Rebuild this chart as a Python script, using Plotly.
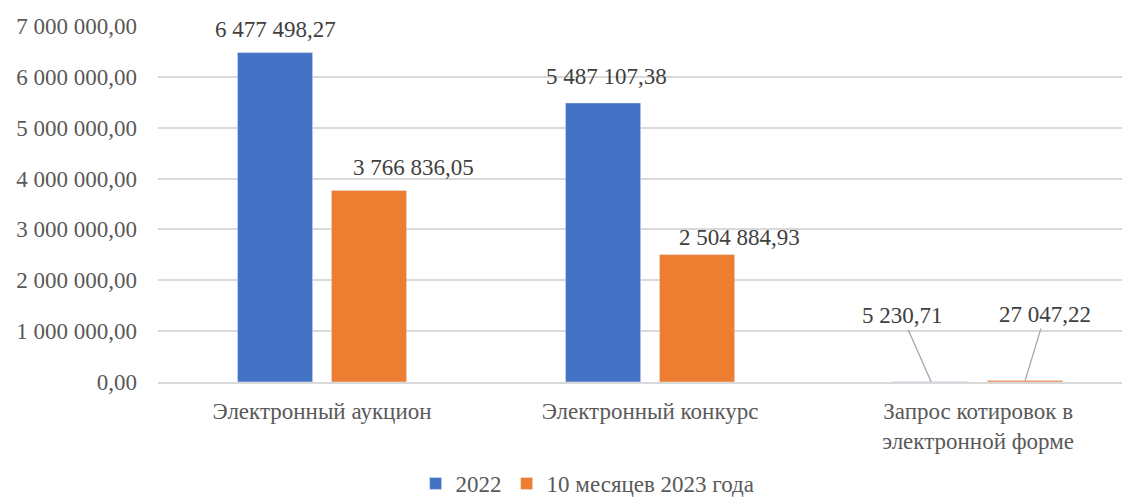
import plotly.graph_objects as go

categories = ["Электронный аукцион", "Электронный конкурс", "Запрос котировок в<br>электронной форме"]
series_names = ["2022", "10 месяцев 2023 года"]
values_2022 = [6477498.27, 5487107.38, 5230.71]
values_2023 = [3766836.05, 2504884.93, 27047.22]
label_2022 = ["6 477 498,27", "5 487 107,38", "5 230,71"]
label_2023 = ["3 766 836,05", "2 504 884,93", "27 047,22"]
y_ticks = [0, 1000000, 2000000, 3000000, 4000000, 5000000, 6000000, 7000000]

BLUE = "#4472C4"
ORANGE = "#ED7D31"
FONT = "Liberation Serif, Liberation Sans, sans-serif"
FS = 23

xs = list(range(len(categories)))

fig = go.Figure()
fig.add_trace(go.Bar(x=xs, y=values_2022, name=series_names[0], marker_color=BLUE))
fig.add_trace(go.Bar(x=xs, y=values_2023, name=series_names[1], marker_color=ORANGE))

off = 0.1433  # half distance between bar centers (in category units)

shifts_2022 = [(0, 23), (3, 26)]
shifts_2023 = [(44, 23), (42, 17)]
annotations = []
for i in range(2):
    annotations.append(dict(x=xs[i] - off, y=values_2022[i], text=label_2022[i], showarrow=False,
                            xref="x", yref="y", yanchor="middle",
                            xshift=shifts_2022[i][0], yshift=shifts_2022[i][1]))
    annotations.append(dict(x=xs[i] + off, y=values_2023[i], text=label_2023[i], showarrow=False,
                            xref="x", yref="y", yanchor="middle",
                            xshift=shifts_2023[i][0], yshift=shifts_2023[i][1]))
annotations.append(dict(x=xs[2] - off, y=values_2022[2], text=label_2022[2], showarrow=True,
                        arrowhead=0, arrowwidth=1.3, arrowcolor="#A6A6A6", standoff=0,
                        ax=-29, ay=-66, xref="x", yref="y"))
annotations.append(dict(x=xs[2] + off, y=values_2023[2], text=label_2023[2], showarrow=True,
                        arrowhead=0, arrowwidth=1.3, arrowcolor="#A6A6A6", standoff=0,
                        ax=20, ay=-66, xref="x", yref="y"))
for a in annotations:
    a["font"] = dict(family=FONT, size=FS, color="#404040")

fig.update_layout(
    width=1122, height=492,
    margin=dict(l=150, r=0, t=18, b=118, autoexpand=False),
    paper_bgcolor="white", plot_bgcolor="white",
    barmode="group", bargap=0.427, bargroupgap=0.2,
    separators=", ",
    font=dict(family=FONT, size=FS, color="#595959"),
    showlegend=True,
    legend=dict(orientation="h", x=0.442, xanchor="center",
                y=-0.285, yanchor="middle", valign="middle",
                font=dict(family=FONT, size=FS, color="#595959"),
                itemwidth=30, traceorder="normal"),
    annotations=annotations,
)
fig.update_xaxes(
    tickmode="array", tickvals=xs, ticktext=categories,
    range=[-0.5, 2.463], showgrid=False, zeroline=False,
    showline=True, linecolor="#D9D9D9", linewidth=1.5,
    ticks="", ticklabelstandoff=8, automargin=False,
    tickfont=dict(family=FONT, size=FS, color="#595959"),
)
fig.update_yaxes(
    range=[0, 7000000], tickvals=y_ticks, tickformat=",.2f",
    showgrid=True, gridcolor="#D9D9D9", gridwidth=1.5,
    zeroline=False, showline=False, ticks="", ticklabelstandoff=20, automargin=False,
    tickfont=dict(family=FONT, size=FS, color="#595959"),
)

fig.write_html("out.html")
